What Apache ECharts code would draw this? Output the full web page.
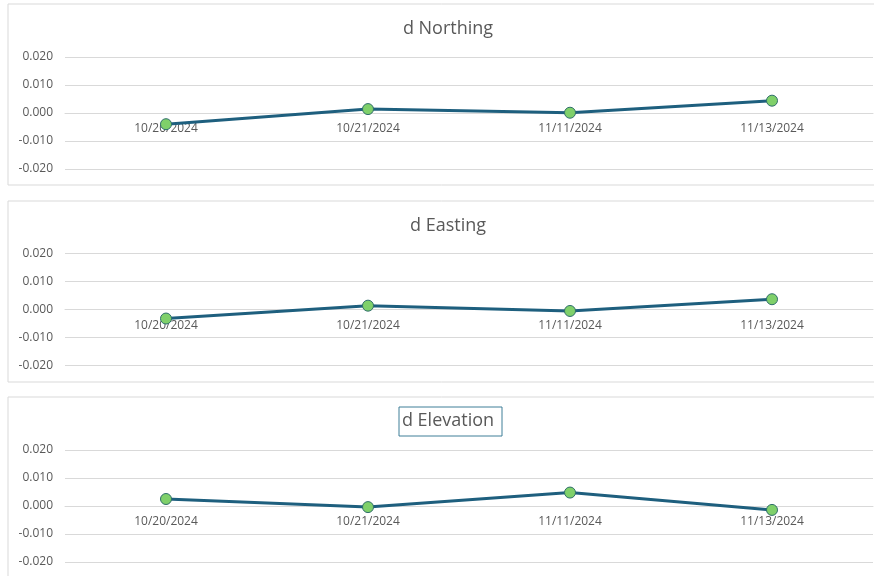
<!DOCTYPE html>
<html>
<head>
<meta charset="utf-8">
<script src="https://cdn.jsdelivr.net/npm/echarts@6/dist/echarts.min.js"></script>
<style>
html,body{margin:0;padding:0;background:#fff;}
#c{width:874px;height:576px;}
</style>
</head>
<body>
<div id="c"></div>
<script>
var categories = ['10/20/2024', '10/21/2024', '11/11/2024', '11/13/2024'];
var titles = ['d Northing', 'd Easting', 'd Elevation'];
var northing = [-0.0040, 0.0014, 0.0001, 0.0044];
var easting = [-0.0033, 0.0013, -0.0006, 0.0036];
var elevation = [0.0025, -0.0004, 0.0048, -0.0014];
var yTicks = [-0.02, -0.01, 0, 0.01, 0.02];

var seriesData = [northing, easting, elevation];
var gridTops = [57, 253.3, 450];
var titleTops = [20, 217, 412];
var boxTops = [3.5, 200.5, 396.5];
var FONT = '"Open Sans", sans-serif';
var GRAY = '#595959';

var chart = echarts.init(document.getElementById('c'), null, {renderer: 'canvas'});

var grids = [], xAxes = [], yAxes = [], series = [], titleOpts = [], graphics = [];
for (var i = 0; i < 3; i++) {
  graphics.push({
    type: 'rect', left: 7.5, top: boxTops[i], z: -10,
    shape: {x: 0, y: 0, width: 885, height: 181},
    style: {fill: '#fff', stroke: '#d9d9d9', lineWidth: 1}
  });
  grids.push({left: 65, right: 1, top: gridTops[i], height: 112});
  titleOpts.push({
    text: titles[i], left: 448, top: titleTops[i], textAlign: 'center', padding: 0,
    textStyle: {fontFamily: FONT, fontSize: 18, fontWeight: 'normal', color: GRAY}
  });
  xAxes.push({
    type: 'category', gridIndex: i, data: categories, boundaryGap: true,
    position: 'bottom', offset: -56,
    axisLine: {show: true, onZero: false, lineStyle: {color: '#d9d9d9', width: 1}},
    axisTick: {show: false},
    axisLabel: {fontFamily: FONT, fontSize: 12, color: GRAY, margin: 10}
  });
  yAxes.push({
    type: 'value', gridIndex: i, min: yTicks[0], max: yTicks[yTicks.length - 1], interval: 0.01,
    axisLine: {show: false}, axisTick: {show: false},
    splitLine: {show: true, lineStyle: {color: '#d9d9d9', width: 1}},
    axisLabel: {fontFamily: FONT, fontSize: 12, color: GRAY, margin: 12,
      formatter: function (v) { return v.toFixed(3); }}
  });
  series.push({
    type: 'line', xAxisIndex: i, yAxisIndex: i, data: seriesData[i],
    symbol: 'circle', symbolSize: 11,
    lineStyle: {color: '#1e5f7e', width: 3},
    itemStyle: {color: '#7fd06a', borderColor: '#2f6f6a', borderWidth: 1},
    emphasis: {disabled: true}, animation: false, z: 5
  });
}
graphics.push({
  type: 'rect', left: 396.5, top: 404.5, z: 10,
  shape: {x: 0, y: 0, width: 103, height: 29},
  style: {fill: 'none', stroke: '#3f7f98', lineWidth: 1}
});

chart.setOption({
  backgroundColor: '#fff',
  animation: false,
  title: titleOpts,
  grid: grids,
  xAxis: xAxes,
  yAxis: yAxes,
  series: series,
  graphic: graphics
});
</script>
</body>
</html>
